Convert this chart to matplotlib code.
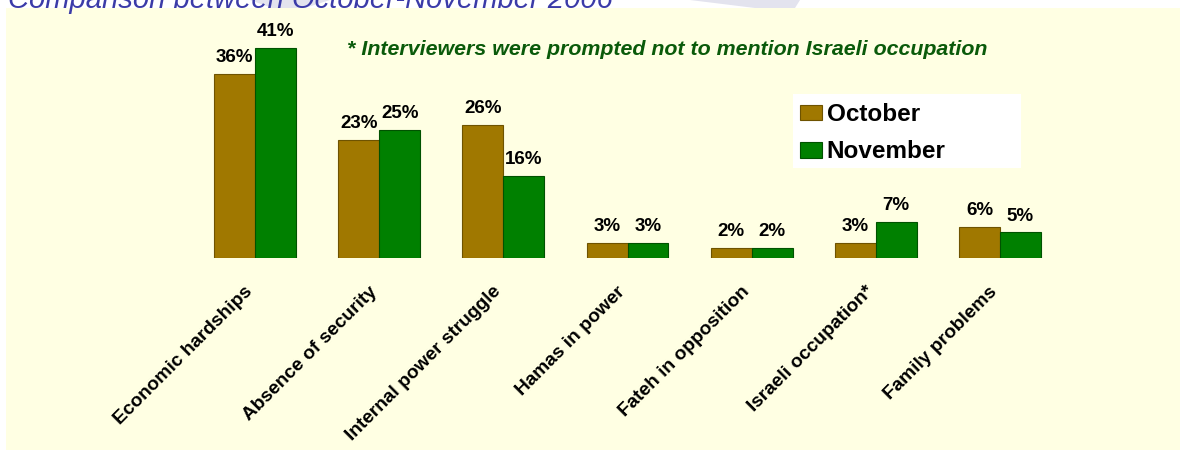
import matplotlib
matplotlib.use("Agg")
import matplotlib.pyplot as plt
import numpy as np
from matplotlib.patches import Rectangle, Polygon
from matplotlib.transforms import ScaledTranslation

plt.rcParams['font.family'] = ['Liberation Sans', 'DejaVu Sans']

categories = ["Economic hardships", "Absence of security", "Internal power struggle",
              "Hamas in power", "Fateh in opposition", "Israeli occupation*",
              "Family problems"]
october = [36, 23, 26, 3, 2, 3, 6]
november = [41, 25, 16, 3, 2, 7, 5]
series_names = ["October", "November"]

title_text = "Comparison between October-November 2006"
note_text = "* Interviewers were prompted not to mention Israeli occupation"

W, H = 1180, 450
fig = plt.figure(figsize=(W / 100, H / 100), dpi=100)
fig.patch.set_facecolor("white")

def fx(px):
    return px / W

def fy(py):
    return 1 - py / H

# faint slide decoration behind the title
for pts in ([(250, 0), (330, 0), (305, 8), (272, 8)],
            [(690, 0), (800, 0), (795, 8), (755, 8)]):
    fig.patches.append(Polygon([(fx(a), fy(b)) for a, b in pts], closed=True,
                               transform=fig.transFigure, facecolor="#e3e3ee",
                               edgecolor="none", zorder=-2))

# cream chart panel
fig.patches.append(Rectangle((fx(6), 0), 1 - fx(6), fy(8), transform=fig.transFigure,
                             facecolor="#FFFFE3", edgecolor="none", zorder=-2))

fig.text(fx(8), fy(8.5), title_text, fontsize=21, style="italic", color="#3b3ba8",
         ha="left", va="baseline", zorder=2)

ax = fig.add_axes([fx(193), fy(258), fx(1062) - fx(193), fy(27.6) - fy(258)])
ax.patch.set_alpha(0)
for s in ax.spines.values():
    s.set_visible(False)

x = np.arange(len(categories))
bw = 0.33
oct_color, nov_color = "#A07800", "#008000"
b1 = ax.bar(x - bw / 2, october, bw, color=oct_color, edgecolor="#6e5300",
            linewidth=0.8, label=series_names[0])
b2 = ax.bar(x + bw / 2, november, bw, color=nov_color, edgecolor="#005200",
            linewidth=0.8, label=series_names[1])

for bars, vals in ((b1, october), (b2, november)):
    for rect, v in zip(bars, vals):
        ax.annotate(f"{v}%", (rect.get_x() + rect.get_width() / 2, v),
                    xytext=(0, 8.5), textcoords="offset points",
                    ha="center", va="baseline", fontsize=13.5, fontweight="bold")

ax.set_xlim(-0.5, len(categories) - 0.5)
ax.set_ylim(0, 45)
ax.set_yticks([])
ax.set_xticks(x)
ax.set_xticklabels(categories, rotation=45, ha="right", rotation_mode="anchor",
                   fontsize=13.8, fontweight="bold")
ax.tick_params(axis="x", length=0, pad=18)
shift = ScaledTranslation(-11 / 100, 0, fig.dpi_scale_trans)
for lbl in ax.get_xticklabels():
    lbl.set_transform(lbl.get_transform() + shift)

fig.text(fx(347), fy(55), note_text, fontsize=15.4, style="italic", fontweight="bold",
         color="#0a5a0a", ha="left", va="baseline")

# legend on a white panel
fig.patches.append(Rectangle((fx(793), fy(168)), fx(1021) - fx(793), fy(94) - fy(168),
                             transform=fig.transFigure, facecolor="white",
                             edgecolor="none", zorder=1))
leg = fig.legend(handles=[b1, b2], labels=series_names, loc="upper left",
                 bbox_to_anchor=(fx(793), fy(96)), frameon=False,
                 prop={"size": 17.5, "weight": "bold"}, handlelength=0.9,
                 handleheight=0.6, handletextpad=0.2, labelspacing=0.6,
                 borderpad=0.28, borderaxespad=0)
leg.set_zorder(3)

fig.savefig("out.png", dpi=100, facecolor=fig.get_facecolor())
